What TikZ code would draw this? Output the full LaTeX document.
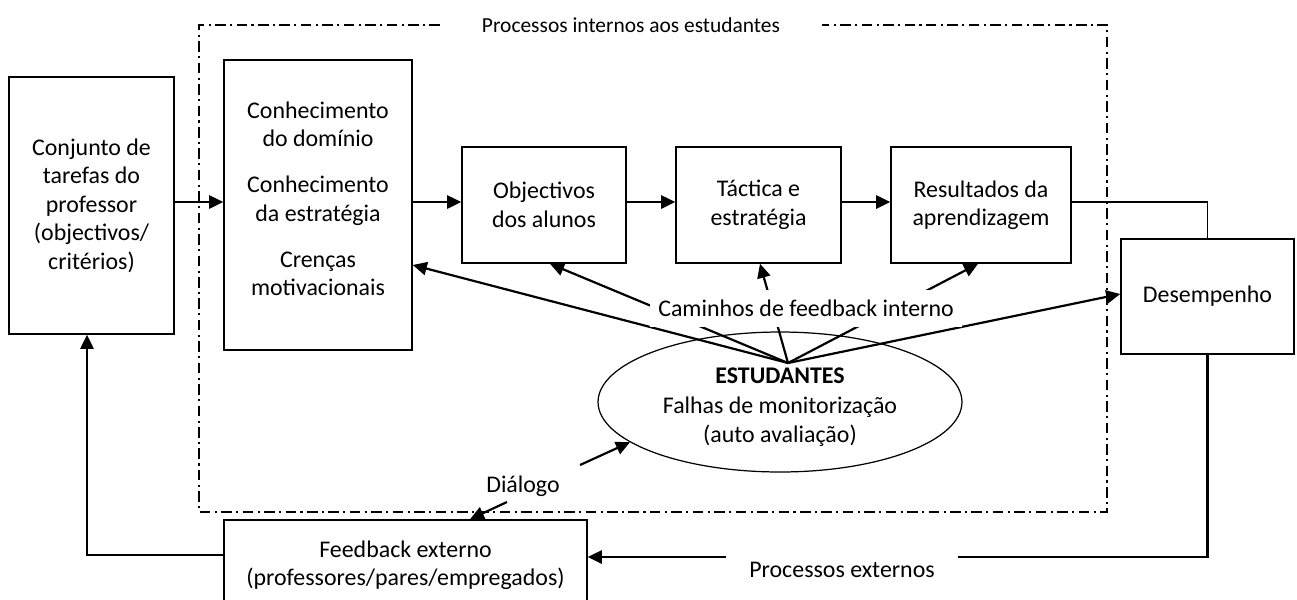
\documentclass[tikz,border=0pt]{standalone}
\usepackage{fontspec}
\setmainfont{Carlito}
\usetikzlibrary{arrows.meta,shapes.geometric}
\begin{document}
\begin{tikzpicture}[x=0.02cm,y=-0.02cm,
  every node/.style={font=\fontsize{13.6pt}{16.2pt}\selectfont, align=center},
  box/.style={draw, line width=0.9pt, inner sep=0pt},
  arr/.style={line width=1.25pt, -{Triangle[length=8pt,width=7.5pt]}},
  thinline/.style={line width=0.6pt},
  dashbox/.style={line width=0.85pt, dash pattern=on 6pt off 2.5pt on 1.2pt off 2.5pt},
  lbl/.style={fill=white, inner sep=0pt}]
\useasboundingbox (0,0) rectangle (1297,599);
\clip (0,0) rectangle (1297,599);

% internal processes frame
\draw[dashbox] (440,25) -- (199,25) -- (199,512) -- (1107,512) -- (1107,25) -- (822,25);
\node[font=\fontsize{12.2pt}{14pt}\selectfont] (title) at (631,25) {Processos internos aos estudantes};

% boxes
\node[box, minimum width=3.30cm, minimum height=5.14cm] (lb) at (91.5,205.5)
  {Conjunto de\\tarefas do\\professor\\(objectivos/\\critérios)};
\node[box, minimum width=3.76cm, minimum height=5.80cm] (know) at (318,205)
  {Conhecimento\\do domínio\\[10pt]Conhecimento\\da estratégia\\[10pt]Crenças\\motivacionais\rule[-7pt]{0pt}{1pt}};
\node[box, minimum width=3.28cm, minimum height=2.32cm] (obj) at (544,205) {Objectivos\\dos alunos};
\node[box, minimum width=3.30cm, minimum height=2.32cm] (tac) at (758.5,205) {Táctica e\\estratégia};
\node[box, minimum width=3.60cm, minimum height=2.32cm] (res) at (981,205) {Resultados da\\aprendizagem};
\node[box, minimum width=3.46cm, minimum height=2.30cm] (des) at (1207.5,296.5) {Desempenho};
\node[box, minimum width=7.26cm, minimum height=1.80cm] (fb) at (405.5,565)
  {Feedback externo\\(professores/pares/empregados)};
\node[draw, ellipse, line width=0.7pt, inner sep=0pt, minimum width=7.28cm, minimum height=2.80cm] (ell) at (780,402)
  {\textbf{\rule{0pt}{14.5pt}ESTUDANTES}\\[1pt]Falhas de monitorização\\(auto avaliação)};

% main flow
\draw[arr] (lb.east |- 0,202) -- (know.west |- 0,202);
\draw[arr] (know.east |- 0,202) -- (obj.west |- 0,202);
\draw[arr] (obj.east |- 0,202) -- (tac.west |- 0,202);
\draw[arr] (tac.east |- 0,202) -- (res.west |- 0,202);
\draw[thinline] (res.east |- 0,202) -| (des.north);

% external processes
\draw[arr] (des.south) |- (fb.east |- 0,557);
\node[lbl, minimum width=4.66cm, minimum height=1.0cm] (pe) at (842,570) {Processos externos};
\draw[arr] (fb.west |- 0,555) -| (lb.south -| 87,0);

% internal feedback paths
\coordinate (conv) at (788,363);
\draw[arr] (conv) -- (know.east |- 0,265);
\draw[arr] (conv) -- (obj.south -| 550,0);
\draw[arr] (conv) -- (tac.south -| 760,0);
\draw[arr] (conv) -- (res.south -| 978,0);
\draw[arr] (conv) -- (des.west |- 0,294);
\node[lbl, minimum width=6.26cm, minimum height=0.74cm] (cam) at (806,308.5) {Caminhos de feedback interno};

% dialogue
\node (dlg) at (523,486) {Diálogo};
\coordinate (d1) at (580,465);
\coordinate (d2) at (507,502);
\draw[arr] (d1) -- (ell.195);
\draw[arr] (d2) -- (fb.north -| 470,0);
\end{tikzpicture}
\end{document}
